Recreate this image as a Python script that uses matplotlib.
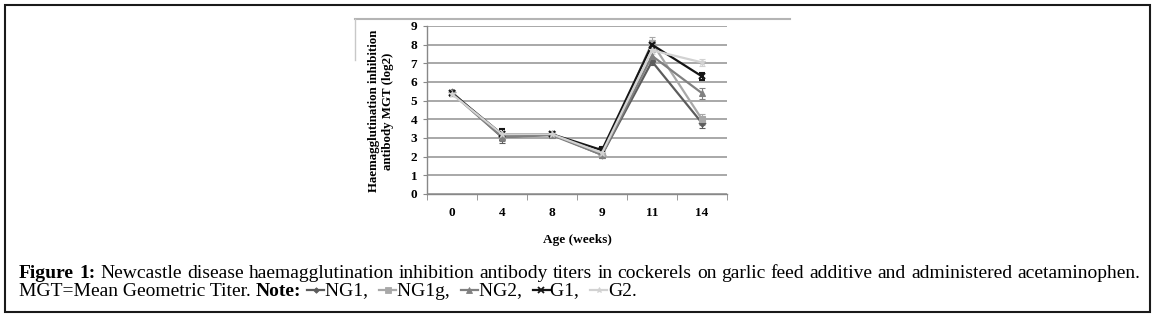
import numpy as np
import matplotlib
matplotlib.use("Agg")
import matplotlib.pyplot as plt
from matplotlib.lines import Line2D
from matplotlib.patches import Rectangle

# data
ages = ['0', '4', '8', '9', '11', '14']
ng1 = [5.45, 3.05, 3.2, 2.1, 7.1, 3.8]
ng1g = [5.4, 3.1, 3.2, 2.1, 8.1, 4.0]
ng2 = [5.4, 3.05, 3.15, 2.1, 7.4, 5.4]
g1 = [5.4, 3.2, 3.2, 2.35, 8.0, 6.3]
g2 = [5.35, 3.2, 3.2, 2.2, 7.7, 7.05]
ng1_err = [0.1, 0.3, 0.08, 0.1, 0.2, 0.25]
ng1g_err = [0.1, 0.15, 0.08, 0.1, 0.3, 0.3]
ng2_err = [0.1, 0.2, 0.08, 0.1, 0.2, 0.3]
g1_err = [0.1, 0.3, 0.08, 0.15, 0.2, 0.2]
g2_err = [0.1, 0.2, 0.08, 0.1, 0.2, 0.2]

series = [
    ('NG1', ng1, ng1_err, '#5c5c5c', 'D', 3.5),
    ('NG1g', ng1g, ng1g_err, '#a8a8a8', 's', 5),
    ('NG2', ng2, ng2_err, '#808080', '^', 5),
    ('G1', g1, g1_err, '#151515', 'x', 5),
    ('G2', g2, g2_err, '#d2d2d2', '*', 5),
]

W, H = 1156, 318
fig = plt.figure(figsize=(W / 100, H / 100), dpi=100)
serif = 'Liberation Serif'


def px(x, y):
    return x / W, 1 - y / H


# outer frame
fig.patches.append(Rectangle(px(5, 312), 1145 / W, 307 / H, transform=fig.transFigure,
                             fill=False, edgecolor='#1a1a1a', lw=1.5))
# faint border of the pasted chart image
fig.add_artist(Line2D([355 / W, 790 / W], [1 - 19 / H] * 2, color='#b4b4b4', lw=1.5))
fig.add_artist(Line2D([355 / W, 355 / W], [1 - 19 / H, 1 - 60 / H], color='#c8c8c8', lw=1))

l, b = px(427, 194)
r, t = px(727, 26)
ax = fig.add_axes([l, b, r - l, t - b])
x = np.arange(len(ages))
for name, vals, err, col, mk, ms in series:
    ax.errorbar(x, vals, yerr=err, color=col, lw=1.6, marker=mk, ms=ms,
                mew=1.5 if mk == 'x' else 0.8, capsize=2.5, elinewidth=0.8, ecolor=col,
                zorder=3)

ax.set_xlim(-0.5, len(ages) - 0.5)
ax.set_ylim(0, 9)
ax.set_yticks(range(0, 10))
ax.set_xticks(x)
ax.set_xticklabels(ages)
ax.set_xticks(np.arange(-0.5, len(ages), 1), minor=True)
ax.tick_params(axis='x', which='major', length=0, pad=9)
ax.tick_params(axis='x', which='minor', length=4, color='#888888', direction='out')
ax.tick_params(axis='y', length=3, color='#888888', pad=4)
for lab in ax.get_xticklabels() + ax.get_yticklabels():
    lab.set_fontfamily(serif)
    lab.set_fontweight('bold')
    lab.set_fontsize(9.5)
ax.grid(axis='y', color='#a8a8a8', lw=1.4)
ax.set_axisbelow(True)
for s in ['top', 'right']:
    ax.spines[s].set_visible(False)
for s in ['left', 'bottom']:
    ax.spines[s].set_color('#888888')
    ax.spines[s].set_linewidth(1)
ax.set_xlabel('Age (weeks)', family=serif, weight='bold', fontsize=9.5, labelpad=11)
fig.text(381 / W, 1 - 111 / H, 'Haemagglutination inhibition\nantibody MGT (log2)',
         rotation=90, ha='center', va='center', family=serif, weight='bold',
         fontsize=9.3, linespacing=1.25)

# caption, first line justified
renderer = fig.canvas.get_renderer()
fs = 14


def width(s, bold=False):
    t = fig.text(0, 0, s, family=serif, fontsize=fs, weight='bold' if bold else 'normal')
    w = t.get_window_extent(renderer).width
    t.remove()
    return w


line1 = ('Figure 1: Newcastle disease haemagglutination inhibition antibody titers in cockerels '
         'on garlic feed additive and administered acetaminophen.').split()
bold_words = {'Figure', '1:'}
widths = [width(w, w in bold_words) for w in line1]
x0, x1 = 19, 1140
gap = (x1 - x0 - sum(widths)) / (len(line1) - 1)
cx = x0
for w, wd in zip(line1, widths):
    fig.text(cx / W, 1 - 273 / H, w, family=serif, fontsize=fs, va='center',
             weight='bold' if w in bold_words else 'normal')
    cx += wd + gap

# second line with legend keys
y2 = 1 - 291 / H
cx = 19


def put(s, bold=False):
    global cx
    fig.text(cx / W, y2, s, family=serif, fontsize=fs, va='center',
             weight='bold' if bold else 'normal')
    cx += width(s, bold)


put('MGT=Mean Geometric Titer. ')
put('Note:', True)
labels = ['NG1, ', 'NG1g, ', 'NG2, ', 'G1, ', 'G2.']
for (name, vals, err, col, mk, ms), lab in zip(series, labels):
    cx += 6
    fig.add_artist(Line2D([cx / W, (cx + 17) / W], [y2 + 1 / H] * 2, color=col, lw=1.6))
    fig.add_artist(Line2D([(cx + 8.5) / W], [y2 + 1 / H], color=col, marker=mk,
                          ms=ms * 0.8, mew=1.3 if mk == 'x' else 0.6))
    cx += 18
    put(lab)

fig.savefig('out.png', dpi=100)
